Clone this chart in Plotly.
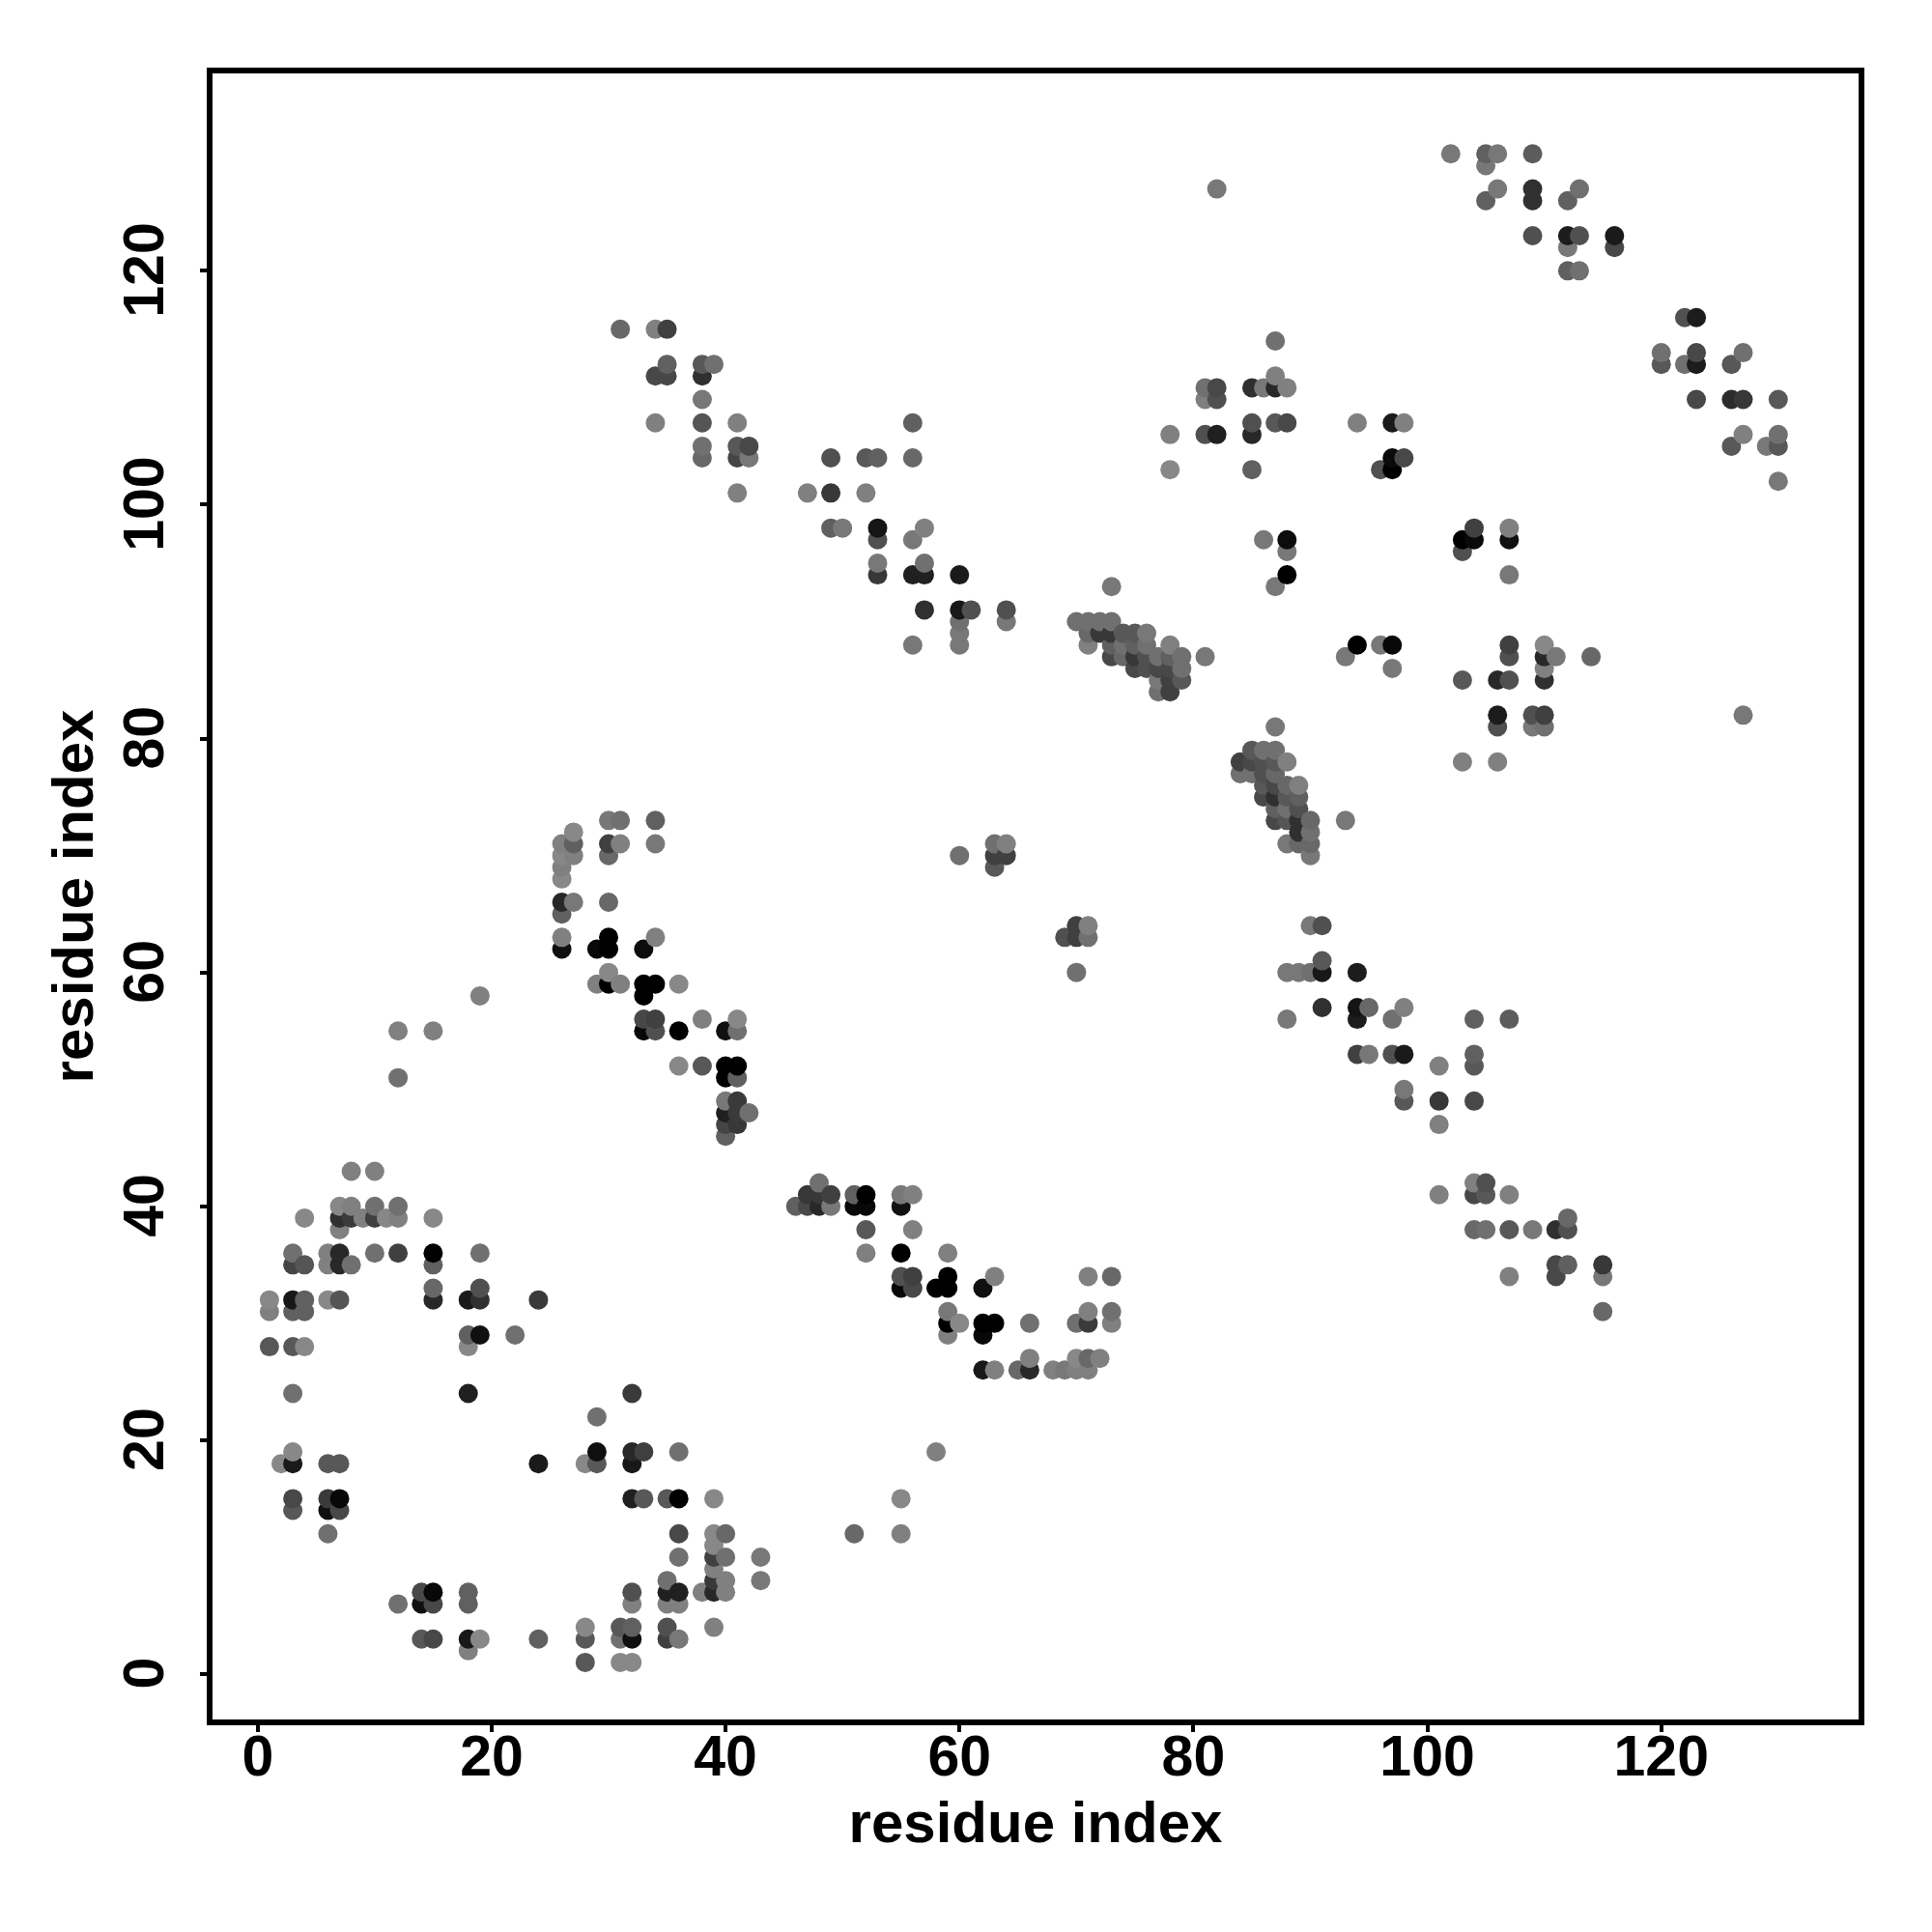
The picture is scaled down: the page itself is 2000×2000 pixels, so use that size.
import plotly.graph_objects as go
import numpy as np

row_index = [130,129,127,126,123,122,120,116,115,114,113,112,111,110,109,107,106,105,104,103,102,101,
             98,97,96,95,94,93,91,90,89,88,87,86,85,84,82,81,79,78,77,76,75,74,73,72,71,70,69,68,66,65,
             64,63,62,61,60,59,58,57,56,55,53,52,51,50,49,48,47,46,43,42,41,40,39,38,36,35,34,33,32,31,
             30,29,28,27,26,24,22,19,18,15,14,12,11,10,9,8,7,6,4,3,2,1]

row_x = [
 [102,105,106,109],[105],[82,106,109,113],[105,109,112],[109,112,113,116],[112,116],[112,113],[122,123],
 [31,34,35],[87],[120,123,127],[35,38,39,120,122,123,126],[34,35,38,87],[81,82,85,86,87,88],
 [38,81,82,123,126,127,130],[34,38,41,56,85,87,88,94,97,98],[78,81,82,85,127,130],[38,41,42,126,129,130],
 [38,41,42,49,52,53,56,97,98],[78,85,96,97],[130],[41,47,49,52],
 [49,50,53,57,104,107],[53,56,86,88,103,104,107],[88,103],[53,57],[53,56,57,60,88,107],[73,87],
 [57,60,61,64],[60,64,70,71,72,73],[60,71,72,73,74,75,76],[56,60,71,73,74,75,76,78,94,96,97,107,110],
 [73,74,75,76,77,78,79,81,93,107,110,111,114],[75,76,77,78,79,97,110],[77,78,79,103,106,107,110],[77,78],
 [106,109,110,127],[87,106,109,110],[85,86,87],[84,85,86,87,88,103,106],[84,85,86,87],[86,87,88,89],
 [86,87,88,89],[87,88,89],[30,31,34,87,88,89,90,93],[27,89,90],[26,27,30,31,34,63,64,88,89,90],
 [26,27,30,60,63,64,90],[26,63],[26],[26,27,30],[26],
 [70,71,90,91],[26,30,34,69,70,71],[26,29,30,33],[91],[30,70,88,89,90,91,94],[29,30,31,33,34,36],[19,33],
 [91,94,95,98],[33,34,38,41,88,94,97,104,107],[12,15,33,34,36,40,41],[94,95,97,98,104],[36,38,40,41,101,104],
 [12,40,41],[98],[40,41,98,101,104],[40,41,42],[40,41,101],[40],[8,10],[48,104,105],
 [47,48,49,51,52,55,56,101,104,105,107],[7,8,10,12,46,47,48,49,51,52,55],[4,7,8,9,10,11,12,15,112],
 [7,52,56,104,105,107,109,111,112],[3,6,7,10,12,15,19,52,55,59],[3,4,6,7,8,15,111,112,115],
 [55,56,59,63,71,73,107,111,115],[15,19,55,56,58,59,62],[1,3,4,6,7,15,18,19,24],[1,3,4,59,71,73,115],
 [59,60,62,63,66,70,71,73],[18,19,22,59,62],[1,3,4,18],[66,70,71,72],[62,63,65,66,68,69,70,71],[3,18,32],[29],
 [3,29,32,33,36,58],[2,3,6,7,24,28,29,32],[3,6,7,32,33,35,36,39,55],[3,6,7],[6,36,39,40,51,55],[39],
 [36,39,40,43],[39],[35,39,40,43],[14,15,18,32,35,36,38,39,40],[12,14,15,18,32,35,36],[28,31,32,35,39],
 [14,15,18,19,24,28,31,32,35,36],[18],[28,31,32],
]

row_grey = [
 [0x78,0x60,0x78,0x5c],[0x78],[0x78,0x78,0x30,0x70],[0x60,0x30,0x60],[0x50,0x1c,0x50,0x1a],[0x78,0x48],[0x60,0x70],[0x50,0x1c],
 [0x68,0x80,0x40],[0x70],[0x70,0x48,0x70],[0x60,0x58,0x70,0x58,0x70,0x1c,0x58],[0x48,0x48,0x30,0x80],[0x70,0x48,0x30,0x78,0x28,0x80],
 [0x78,0x80,0x50,0x48,0x2c,0x38,0x58],[0x80,0x55,0x80,0x60,0x50,0x58,0x48,0x80,0x1a,0x80],[0x80,0x50,0x20,0x28,0x80,0x70],[0x70,0x58,0x48,0x58,0x78,0x58],
 [0x68,0x45,0x78,0x50,0x58,0x60,0x68,0x0a,0x48],[0x88,0x60,0x50,0x00],[0x78],[0x80,0x80,0x38,0x80],
 [0x60,0x78,0x15,0x80,0x40,0x80],[0x50,0x78,0x78,0x0c,0x00,0x0a,0x10],[0x78,0x50],[0x78,0x70],[0x38,0x20,0x20,0x1a,0x00,0x78],[0x78,0x78],
 [0x30,0x18,0x50,0x50],[0x70,0x78,0x70,0x70,0x70,0x70],[0x78,0x68,0x38,0x38,0x58,0x58,0x78],[0x78,0x78,0x80,0x60,0x70,0x60,0x70,0x80,0x00,0x78,0x08,0x40,0x88],
 [0x48,0x68,0x38,0x50,0x70,0x60,0x70,0x78,0x78,0x50,0x28,0x78,0x68],[0x48,0x50,0x48,0x48,0x70,0x78,0x80],[0x78,0x40,0x58,0x58,0x28,0x50,0x30],[0x70,0x40],
 [0x1c,0x50,0x40,0x78],[0x78,0x50,0x78,0x70],[0x58,0x70,0x70],[0x40,0x48,0x50,0x58,0x80,0x80,0x80],[0x70,0x70,0x50,0x68],[0x58,0x48,0x68,0x80],
 [0x48,0x30,0x58,0x60],[0x60,0x70,0x50],[0x78,0x70,0x60,0x48,0x55,0x30,0x68,0x78],[0x88,0x30,0x70],[0x80,0x60,0x40,0x80,0x78,0x70,0x80,0x78,0x68,0x68],
 [0x88,0x80,0x68,0x70,0x40,0x40,0x78],[0x80,0x58],[0x88],[0x28,0x78,0x68],[0x60],
 [0x40,0x80,0x78,0x50],[0x80,0x00,0x80,0x50,0x40,0x70],[0x10,0x08,0x00,0x0c],[0x58],[0x88,0x70,0x78,0x78,0x70,0x18,0x1c],[0x80,0x00,0x80,0x00,0x00,0x88],[0x80,0x00],
 [0x30,0x14,0x68,0x80],[0x48,0x40,0x80,0x88,0x78,0x1c,0x70,0x60,0x5c],[0x80,0x80,0x08,0x50,0x00,0x10,0x70],[0x40,0x78,0x50,0x1a,0x60],[0x88,0x58,0x00,0x00,0x80,0x58],
 [0x70,0x00,0x60],[0x78],[0x78,0x3a,0x58,0x38,0x48],[0x20,0x3a,0x70],[0x45,0x38,0x80],[0x60],[0x80,0x80],[0x70,0x80,0x50],
 [0x38,0x38,0x40,0x60,0x00,0x78,0x80,0x80,0x48,0x58,0x80],[0x88,0x80,0x70,0x70,0x60,0x48,0x28,0x78,0x08,0x08,0x10],[0x88,0x30,0x3a,0x80,0x40,0x88,0x80,0x88,0x68],
 [0x80,0x58,0x80,0x68,0x70,0x58,0x78,0x30,0x50],[0x70,0x80,0x28,0x70,0x40,0x00,0x70,0x80,0x00,0x80],[0x45,0x55,0x80,0x28,0x70,0x60,0x48,0x60,0x38],
 [0x50,0x40,0x00,0x80,0x80,0x68,0x80,0x48,0x78],[0x68,0x50,0x08,0x48,0x00,0x00,0x10],[0x88,0x18,0x60,0x88,0x55,0x28,0x1a,0x30,0x3a],[0x80,0x60,0x60,0x78,0x80,0x70,0x68],
 [0x00,0x88,0x00,0x00,0x70,0x70,0x3a,0x80],[0x60,0x10,0x70,0x80,0x08],[0x58,0x58,0x88,0x88],[0x80,0x88,0x68,0x80],[0x18,0x80,0x68,0x28,0x80,0x78,0x80,0x80],[0x70,0x20,0x3a],[0x70],
 [0x88,0x10,0x28,0x3f,0x70,0x80],[0x88,0x1a,0x58,0x58,0x1a,0x88,0x58,0x18],[0x48,0x3a,0x08,0x20,0x58,0x58,0x00,0x88,0x88],[0x58,0x10,0x48],[0x70,0x48,0x88,0x68,0x68,0x80],[0x88],
 [0x70,0x40,0x70,0x78],[0x80],[0x70,0x38,0x80,0x78],[0x48,0x08,0x60,0x50,0x20,0x20,0x80,0x28,0x80],[0x70,0x10,0x48,0x60,0x80,0x80,0x80],[0x88,0x58,0x60,0x50,0x80],
 [0x58,0x48,0x18,0x88,0x60,0x58,0x70,0x10,0x40,0x78],[0x80],[0x58,0x88,0x88],
]

x_ticks = [0, 20, 40, 60, 80, 100, 120]
y_ticks = [0, 20, 40, 60, 80, 100, 120]
x_title = "residue index"
y_title = "residue index"

xs, ys, gs = [], [], []
for y, rx, rg in zip(row_index, row_x, row_grey):
    assert len(rx) == len(rg), y
    for x, g in zip(rx, rg):
        xs.append(x); ys.append(y); gs.append(g)
order = np.lexsort((ys, xs))
xs = [xs[k] for k in order]
ys = [ys[k] for k in order]
colors = [f"rgb({gs[k]},{gs[k]},{gs[k]})" for k in order]

tick_font = dict(family="Liberation Sans", size=59, color="black", weight="bold")
title_font = dict(family="Liberation Sans", size=60, color="black", weight="bold")
L, R, T, B = 220, 1924.3, 75.7, 1780.3

fig = go.Figure(go.Scatter(x=xs, y=ys, mode="markers",
                           marker=dict(size=20, color=colors, line=dict(width=0)),
                           hoverinfo="skip", cliponaxis=False))
axis = dict(showgrid=False, zeroline=False, showline=True, mirror=True, linecolor="black", linewidth=6,
            ticks="outside", ticklen=7, tickwidth=4, tickcolor="black", tickfont=tick_font,
            automargin=False)
fig.update_xaxes(range=[-3.865, 136.87], tickvals=x_ticks, ticktext=[str(v) for v in x_ticks],
                 ticklabelstandoff=-26,
                 title=dict(text=x_title, font=title_font, standoff=17), **axis)
fig.update_yaxes(range=[-3.88, 136.88], tickvals=y_ticks, ticktext=[str(v) for v in y_ticks],
                 tickangle=-90, ticklabelstandoff=14, ticklabelshift=8,
                 title=dict(text=y_title, font=title_font, standoff=2), **axis)
fig.update_layout(width=2000, height=2000, autosize=False, showlegend=False,
                  paper_bgcolor="white", plot_bgcolor="white",
                  margin=dict(l=L, r=2000 - R, t=T, b=2000 - B, pad=0))
fig.write_html("out.html", config=dict(displayModeBar=False),
               post_script="document.body.style.margin='0';")
